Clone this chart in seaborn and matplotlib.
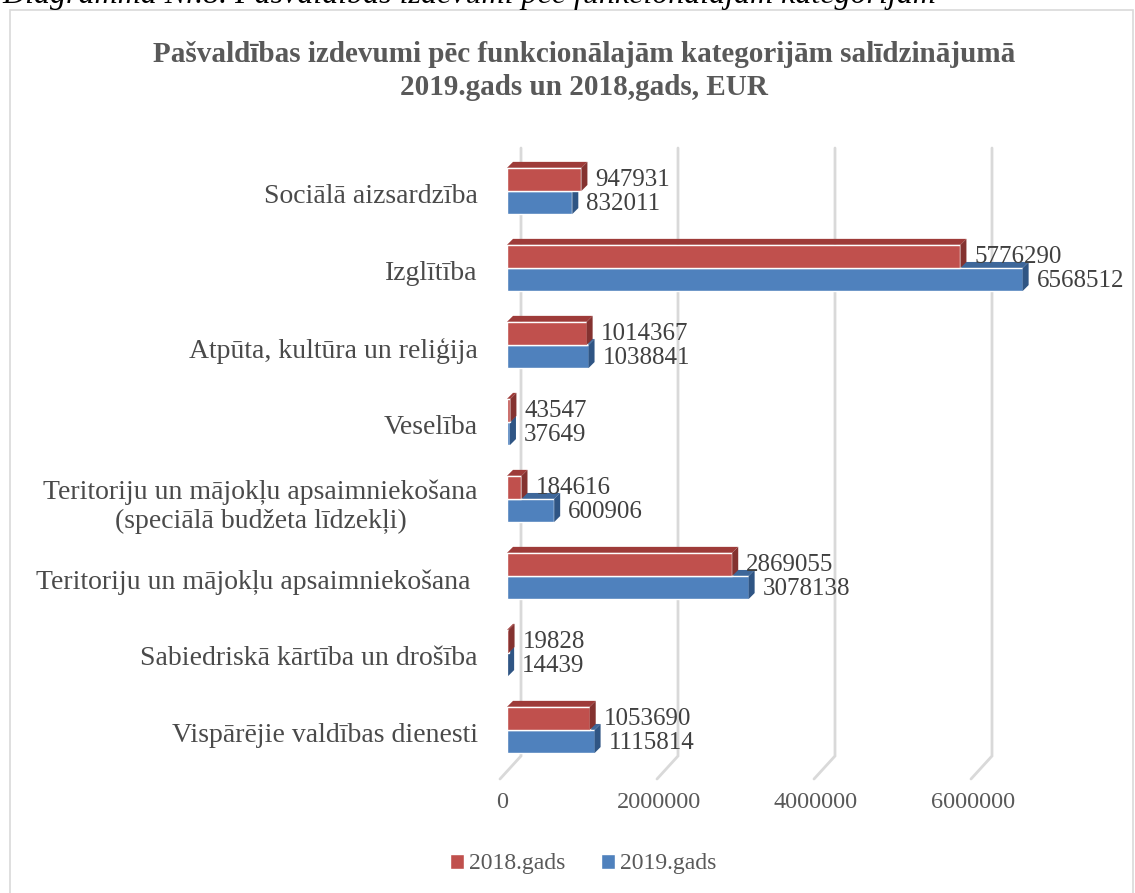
import matplotlib
matplotlib.use('Agg')
import matplotlib.pyplot as plt
import seaborn as sns
import pandas as pd
from matplotlib.patches import Polygon, Rectangle, Patch
from matplotlib import transforms

# data
categories = [
    'Sociālā aizsardzība',
    'Izglītība',
    'Atpūta, kultūra un reliģija',
    'Veselība',
    'Teritoriju un mājokļu apsaimniekošana\n(speciālā budžeta līdzekļi)',
    'Teritoriju un mājokļu apsaimniekošana ',
    'Sabiedriskā kārtība un drošība',
    'Vispārējie valdības dienesti',
]
years = ['2018.gads', '2019.gads']
v2018 = [947931, 5776290, 1014367, 43547, 184616, 2869055, 19828, 1053690]
v2019 = [832011, 6568512, 1038841, 37649, 600906, 3078138, 14439, 1115814]
xticks = [0, 2000000, 4000000, 6000000]

RED, RED_TOP, RED_SIDE = '#C0504D', '#9E3B39', '#843230'
BLUE, BLUE_TOP, BLUE_SIDE = '#4F81BD', '#3E679A', '#2F5584'
GRID = '#D9D9D9'

W, H = 1135, 893
sns.set_style('white')
plt.rcParams['font.family'] = ['Liberation Serif', 'DejaVu Serif']

fig = plt.figure(figsize=(W / 100, H / 100), dpi=100)
ax = fig.add_axes([507 / W, (H - 768) / H, 549.5 / W, 620 / H])

df = pd.DataFrame({
    'Kategorija': categories * 2,
    'EUR': v2018 + v2019,
    'Gads': [years[0]] * len(categories) + [years[1]] * len(categories),
})
sns.barplot(data=df, x='EUR', y='Kategorija', hue='Gads', orient='h',
            palette=[RED, BLUE], saturation=1, width=0.6, gap=0,
            legend=False, ax=ax)

ax.set_xlim(0, 7000000)
ax.set_ylim(7.494, -0.558)
sns.despine(ax=ax, left=True, bottom=True)
ax.set_xlabel('')
ax.set_ylabel('')

to_disp = ax.transData.transform
to_data = ax.transData.inverted().transform


def face(pts, color, z):
    ax.add_patch(Polygon(to_data(pts), closed=True, facecolor=color,
                         edgecolor='none', zorder=z, clip_on=False))


# fake 3D: top and side faces on every bar
D = 6
for cont, top, side, z, vals in [(ax.containers[1], BLUE_TOP, BLUE_SIDE, 3, v2019),
                                 (ax.containers[0], RED_TOP, RED_SIDE, 5, v2018)]:
    for bar, v in zip(cont, vals):
        bar.set_zorder(z)
        (x0, ya), (x1, yb) = to_disp([(bar.get_x(), bar.get_y()),
                                      (bar.get_x() + bar.get_width(), bar.get_y() + bar.get_height())])
        yt, ybm = max(ya, yb), min(ya, yb)
        face([(x0, yt), (x1, yt), (x1 + D, yt + D), (x0 + D, yt + D)], top, z - 0.1)
        face([(x1, ybm), (x1 + D, ybm + D), (x1 + D, yt + D), (x1, yt)], side, z)
        ax.annotate(str(v), xy=(bar.get_width(), bar.get_y() + bar.get_height() / 2),
                    xytext=(D + 8, -1), textcoords='offset pixels', ha='left', va='center',
                    fontsize=18, color='#404040', zorder=6)


# gridlines on the back wall with a slanted floor edge
def fig_px(val, ypx, dx):
    x = to_disp((val, 0))[0] + dx
    return to_data((x, H - ypx))


for v in xticks:
    pts = [fig_px(v, 148, 14), fig_px(v, 756, 14), fig_px(v, 779, -7)]
    ax.plot([p[0] for p in pts], [p[1] for p in pts], color=GRID, lw=2,
            zorder=1, clip_on=False, solid_joinstyle='miter')

ax.set_xticks(xticks, [str(t) for t in xticks])
ax.tick_params(axis='x', length=0, pad=17.5, labelsize=17.5, labelcolor='#595959')
ax.tick_params(axis='y', length=0, pad=21, labelsize=20, labelcolor='#4A4A4A')
shift = transforms.ScaledTranslation(-5 / 100, 0, fig.dpi_scale_trans)
for lab in ax.get_xticklabels():
    lab.set_transform(lab.get_transform() + shift)
yshift = transforms.ScaledTranslation(0, -3 / 100, fig.dpi_scale_trans)
for lab in ax.get_yticklabels():
    lab.set_multialignment('center')
    lab.set_transform(lab.get_transform() + yshift)
ax.grid(False)

fig.text(584 / W, 1 - 71 / H,
         'Pašvaldības izdevumi pēc funkcionālajām kategorijām salīdzinājumā\n2019.gads un 2018,gads, EUR',
         ha='center', va='center', fontsize=21, weight='bold', color='#595959', linespacing=1.3)
fig.text(2 / W, 1 - 3 / H, 'Diagramma Nr.8. Pašvaldības izdevumi pēc funkcionālajām kategorijām',
         ha='left', va='baseline', fontsize=23, style='italic', color='black')

fig.patches.append(Rectangle((10 / W, -0.05), (1133 - 10) / W, (H - 10) / H + 0.05,
                             transform=fig.transFigure, fill=False, edgecolor=GRID, lw=1.2))

handles = [Patch(facecolor=RED), Patch(facecolor=BLUE)]
fig.legend(handles, years, loc='center', bbox_to_anchor=(583 / W, 1 - 864 / H), ncol=2,
           frameon=False, handlelength=0.6, handleheight=0.6, handletextpad=0.2,
           columnspacing=1.5, fontsize=17, labelcolor='#595959')

fig.savefig('out.png', dpi=100)
